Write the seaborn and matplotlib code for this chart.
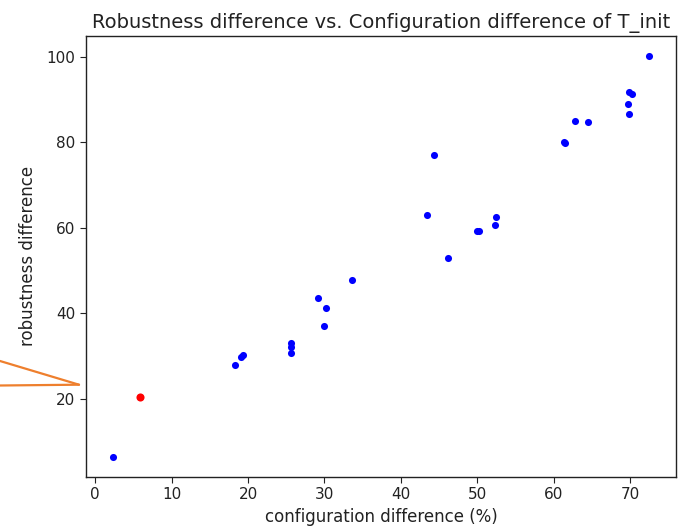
import matplotlib
matplotlib.use("Agg")
import matplotlib.pyplot as plt
import pandas as pd
import seaborn as sns
from matplotlib.lines import Line2D

# configuration difference (%) vs robustness difference, one row per configuration
config_diff = [2.3, 5.8, 18.3, 19.1, 19.4, 25.6, 25.6, 25.6, 29.2, 30.2, 29.9, 33.6,
               44.3, 43.4, 46.2, 49.9, 50.2, 52.3, 52.5, 61.3, 61.5, 62.8, 64.5,
               69.7, 69.8, 69.9, 70.3, 72.5]
robust_diff = [6.5, 20.4, 28.0, 29.9, 30.2, 33.0, 32.1, 30.8, 43.5, 41.2, 37.1, 47.9,
               77.0, 63.1, 52.9, 59.2, 59.2, 60.8, 62.5, 80.0, 79.9, 85.1, 84.7,
               89.0, 86.6, 91.8, 91.4, 100.2]
highlight = [False, True] + [False] * 26

df = pd.DataFrame({"config": config_diff, "robust": robust_diff, "hl": highlight})

sns.set_style("ticks")
plt.rcParams["font.family"] = ["DejaVu Sans"]

fig = plt.figure(figsize=(6.85, 5.27), dpi=100)
ax = fig.add_axes([0.1255, 0.0954, 0.8614, 0.8363])

sns.scatterplot(data=df[~df.hl], x="config", y="robust", color="blue", s=26,
                linewidth=0, ax=ax)
sns.scatterplot(data=df[df.hl], x="config", y="robust", color="red", s=34,
                linewidth=0, ax=ax)

ax.set_xticks([0, 10, 20, 30, 40, 50, 60, 70])
ax.set_yticks([20, 40, 60, 80, 100])
ax.tick_params(labelsize=11, colors="#222222", length=4)
ax.set_xlabel("configuration difference (%)", fontsize=12, color="#222222")
ax.set_ylabel("robustness difference", fontsize=12, color="#222222")
ax.yaxis.set_label_coords(-0.083, 0.5)
ax.set_title("Robustness difference vs. Configuration difference of T_init",
             fontsize=14, color="#222222", pad=6)
for sp in ax.spines.values():
    sp.set_color("#222222")
    sp.set_linewidth(1.0)

# orange callout pointer at the left edge
W, H = 685, 527
for (x0, y0) in [(0, 361), (0, 385.5)]:
    fig.add_artist(Line2D([x0 / W, 79 / W], [1 - y0 / H, 1 - 384.7 / H],
                          color="#ee7f2d", linewidth=1.6))

fig.savefig("out.png", dpi=100)
